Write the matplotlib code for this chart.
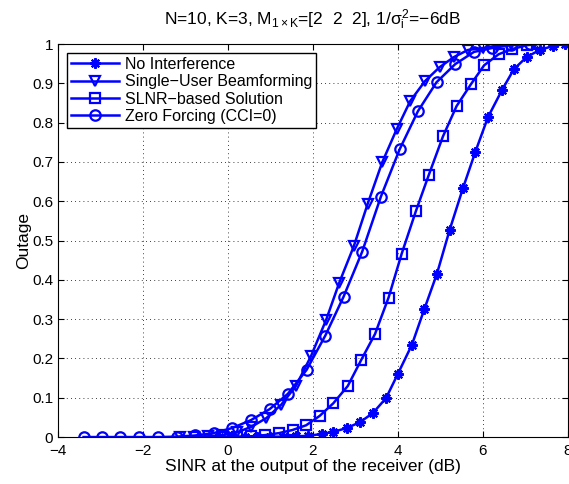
import matplotlib
matplotlib.use("Agg")
import matplotlib.pyplot as plt

plt.rcParams['font.family'] = ['Liberation Sans', 'DejaVu Sans']
plt.rcParams['mathtext.fontset'] = 'custom'
plt.rcParams['mathtext.rm'] = 'Liberation Sans'
plt.rcParams['mathtext.it'] = 'Liberation Sans'
plt.rcParams['mathtext.sf'] = 'Liberation Sans'

# No Interference (asterisks)
x_noint = [-0.2, 0.1, 0.4, 0.69, 0.99, 1.29, 1.59, 1.89, 2.21, 2.47, 2.80, 3.11, 3.41, 3.72, 4.0,
           4.33, 4.62, 4.92, 5.22, 5.53, 5.82, 6.12, 6.45, 6.73, 7.03, 7.34, 7.65, 7.93]
y_noint = [0, 0, 0, 0, 0.001, 0.001, 0.002, 0.003, 0.008, 0.013, 0.023, 0.038, 0.061, 0.099, 0.161,
           0.235, 0.325, 0.416, 0.528, 0.633, 0.725, 0.814, 0.883, 0.936, 0.967, 0.985, 0.995, 1.0]

# Single-User Beamforming (triangles)
x_sub = [-1.13, -0.80, -0.46, -0.13, 0.21, 0.55, 0.90, 1.25, 1.60, 1.95, 2.31, 2.62, 2.96, 3.29,
         3.63, 3.97, 4.29, 4.64, 4.98, 5.32, 5.65, 6.0, 6.33, 6.66]
y_sub = [0, 0.001, 0.002, 0.005, 0.012, 0.026, 0.048, 0.082, 0.13, 0.205, 0.298, 0.393, 0.485, 0.594,
         0.699, 0.783, 0.855, 0.906, 0.941, 0.967, 0.985, 0.99, 0.996, 0.999]

# SLNR-based Solution (squares)
x_slnr = [-0.12, 0.21, 0.54, 0.87, 1.2, 1.52, 1.84, 2.16, 2.48, 2.82, 3.13, 3.46, 3.78, 4.09,
          4.42, 4.73, 5.06, 5.38, 5.72, 6.03, 6.37, 6.68, 7.04, 7.32]
y_slnr = [0, 0.001, 0.002, 0.005, 0.01, 0.018, 0.03, 0.054, 0.086, 0.13, 0.195, 0.262, 0.355, 0.467,
          0.574, 0.668, 0.765, 0.842, 0.898, 0.946, 0.974, 0.987, 0.997, 1.0]

# Zero Forcing (circles)
x_zf = [-3.4, -2.96, -2.53, -2.09, -1.65, -1.21, -0.78, -0.34, 0.10, 0.54, 0.98, 1.41, 1.85,
        2.29, 2.72, 3.16, 3.60, 4.04, 4.47, 4.91, 5.35, 5.79, 6.22, 6.66, 7.10]
y_zf = [0, 0, 0, 0, 0, 0.001, 0.004, 0.01, 0.023, 0.043, 0.071, 0.11, 0.171, 0.258, 0.357, 0.472,
        0.612, 0.732, 0.829, 0.903, 0.949, 0.98, 0.99, 0.997, 1.0]

x_ticks = [-4, -2, 0, 2, 4, 6, 8]
y_ticks = [0, 0.1, 0.2, 0.3, 0.4, 0.5, 0.6, 0.7, 0.8, 0.9, 1]

fig = plt.figure(figsize=(5.69, 4.84), dpi=100)
ax = fig.add_axes([0.102, 0.097, 0.896, 0.812])

blue = (0, 0, 1)
common = dict(color=blue, linewidth=1.8, markersize=7.5, markerfacecolor='none',
              markeredgecolor=blue, markeredgewidth=1.6)
ax.plot(x_noint, y_noint, marker=(8, 2, 0), label='No Interference', **common)
ax.plot(x_sub, y_sub, marker='v', label='Single\u2212User Beamforming', **common)
ax.plot(x_slnr, y_slnr, marker='s', label='SLNR\u2212based Solution', **common)
ax.plot(x_zf, y_zf, marker='o', label='Zero Forcing (CCI=0)', **common)

ax.set_xlim(-4, 8)
ax.set_ylim(0, 1)
ax.set_xticks(x_ticks)
ax.set_yticks(y_ticks)
ax.set_yticklabels([f"{t:g}" for t in y_ticks])
ax.tick_params(direction='in', top=True, right=True, labelsize=11, length=4)
ax.tick_params(axis='x', pad=5)
ax.grid(True, linestyle=(0, (1, 4)), color='black', linewidth=0.6)

ax.set_xlabel('SINR at the output of the receiver (dB)', fontsize=12.5, labelpad=1)
ax.set_ylabel('Outage', fontsize=12.5, labelpad=1)
ax.set_title(r'N=10, K=3, M$_{1\times K}$=[2  2  2], 1/$\sigma_i^2$=$-$6dB', fontsize=12.5, pad=14)

leg = ax.legend(loc='upper left', fontsize=11.5, handlelength=3.0, fancybox=False,
                edgecolor='black', framealpha=1, borderpad=0.25, labelspacing=0.15,
                handletextpad=0.4, borderaxespad=0.55)
leg.get_frame().set_linewidth(1.0)

fig.savefig('out.png', dpi=100)
